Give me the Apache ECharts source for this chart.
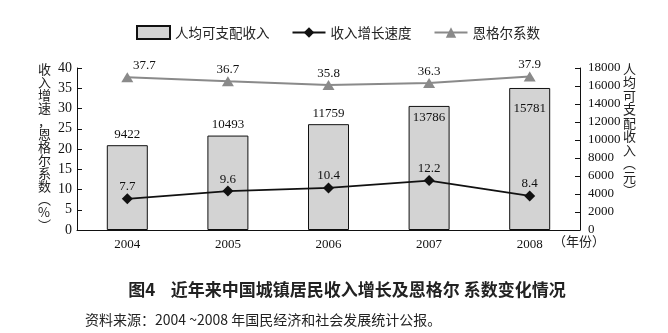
<!DOCTYPE html>
<html>
<head>
<meta charset="utf-8">
<title>近年来中国城镇居民收入增长及恩格尔系数变化情况</title>
<script src="https://cdn.jsdelivr.net/npm/echarts@6/dist/echarts.min.js"></script>
<style>
html, body { margin: 0; padding: 0; background: #fff; }
#chart { width: 668px; height: 333px; }
</style>
</head>
<body>
<div id="chart"></div>
<script>
// 数据
var years = ['2004', '2005', '2006', '2007', '2008'];
var income = [9422, 10493, 11759, 13786, 15781];      // 人均可支配收入（元）
var growth = [7.7, 9.6, 10.4, 12.2, 8.4];             // 收入增长速度（%）
var engel = [37.7, 36.7, 35.8, 36.3, 37.9];           // 恩格尔系数（%）

var FONT = '"Liberation Serif", "Noto Sans CJK SC", serif';
var CJK = '"Noto Sans CJK SC", "Liberation Serif", sans-serif';

var myChart = echarts.init(document.getElementById('chart'));

// 后两根柱子的数值放在柱子里面，避免和上面的折线标签挤在一起
var incomeData = income.map(function (v, i) {
  if (i === 3) return { value: v, label: { position: 'insideTop', distance: 5 } };
  if (i === 4) return { value: v, label: { position: 'insideTop', distance: 14 } };
  return v;
});
var engelData = engel.map(function (v, i) {
  if (i === 0) return { value: v, label: { offset: [17, 0] } };
  return v;
});

var option = {
  backgroundColor: '#fff',
  animation: false,
  textStyle: { fontFamily: FONT, color: '#111' },
  title: [
    {
      text: '图4    近年来中国城镇居民收入增长及恩格尔 系数变化情况',
      left: 342, top: 276, textAlign: 'center',
      textStyle: { fontFamily: CJK, fontSize: 17, fontWeight: 'bold', color: '#222' }
    },
    {
      text: '资料来源：2004 ~2008 年国民经济和社会发展统计公报。',
      left: 80, top: 308,
      textStyle: { fontFamily: CJK, fontSize: 14, fontWeight: 'normal', color: '#222' }
    }
  ],
  legend: {
    left: 131, top: 20,
    itemWidth: 33, itemHeight: 13, itemGap: 22,
    textStyle: { fontFamily: CJK, fontSize: 13.5, color: '#222' },
    data: [
      { name: '人均可支配收入', icon: 'rect' },
      '收入增长速度',
      '恩格尔系数'
    ]
  },
  grid: { left: 77, right: 88, top: 68, bottom: 103 },
  xAxis: {
    type: 'category',
    data: years,
    axisLine: { lineStyle: { color: '#111', width: 1 } },
    axisTick: { inside: true, length: 5, lineStyle: { color: '#111' } },
    axisLabel: { fontFamily: FONT, fontSize: 13, color: '#111', margin: 8 }
  },
  yAxis: [
    {
      type: 'value', min: 0, max: 40, interval: 5,
      axisLine: { show: true, lineStyle: { color: '#111' } },
      axisTick: { show: true, inside: true, length: 5, lineStyle: { color: '#111' } },
      axisLabel: { fontFamily: FONT, fontSize: 14, color: '#111', margin: 5 },
      splitLine: { show: false }
    },
    {
      type: 'value', min: 0, max: 18000, interval: 2000,
      axisLine: { show: true, lineStyle: { color: '#111' } },
      axisTick: { show: true, inside: true, length: 5, lineStyle: { color: '#111' } },
      axisLabel: {
        fontFamily: FONT, fontSize: 13, color: '#111', margin: 8,
        formatter: function (v) { return String(v); }
      },
      splitLine: { show: false }
    }
  ],
  // 竖排的坐标轴名称
  graphic: [
    {
      type: 'text', left: 38, top: 63,
      style: {
        text: '收\n入\n增\n速\n，\n恩\n格\n尔\n系\n数\n︵\n%\n︶',
        font: '13px ' + CJK, lineHeight: 13, fill: '#222', align: 'center'
      }
    },
    {
      type: 'text', left: 623, top: 62,
      style: {
        text: '人\n均\n可\n支\n配\n收\n入\n︵\n元\n︶',
        font: '13px ' + CJK, lineHeight: 13.5, fill: '#222', align: 'center'
      }
    },
    {
      type: 'text', left: 553, top: 235,
      style: { text: '（年份）', font: '13px ' + CJK, fill: '#222' }
    }
  ],
  series: [
    {
      name: '人均可支配收入',
      type: 'bar',
      yAxisIndex: 1,
      barWidth: 41,
      data: incomeData,
      itemStyle: { color: '#d3d3d3', borderColor: '#111', borderWidth: 1 },
      label: { show: true, position: 'top', distance: 4, fontFamily: FONT, fontSize: 13, color: '#111' }
    },
    {
      name: '收入增长速度',
      type: 'line',
      yAxisIndex: 0,
      data: growth,
      symbol: 'diamond',
      symbolSize: 11,
      lineStyle: { color: '#111', width: 1.8 },
      itemStyle: { color: '#111' },
      label: { show: true, position: 'top', distance: 0, fontFamily: FONT, fontSize: 13, color: '#111' }
    },
    {
      name: '恩格尔系数',
      type: 'line',
      yAxisIndex: 0,
      data: engelData,
      symbol: 'triangle',
      symbolSize: [12, 10],
      lineStyle: { color: '#8a8a8a', width: 2 },
      itemStyle: { color: '#8a8a8a' },
      label: { show: true, position: 'top', distance: 0, fontFamily: FONT, fontSize: 13, color: '#111' }
    }
  ]
};

myChart.setOption(option);
</script>
</body>
</html>
